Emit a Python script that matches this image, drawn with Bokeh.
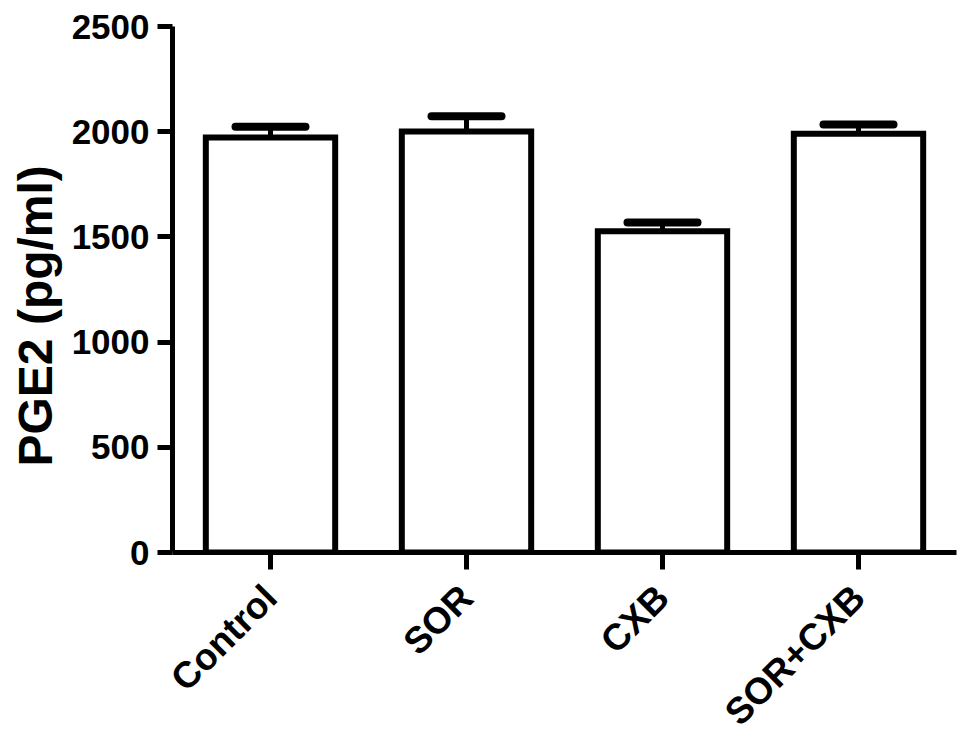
import math
from bokeh.plotting import figure
from bokeh.models import ColumnDataSource, Whisker, TeeHead, FactorRange, Range1d, FixedTicker, Title
from bokeh.embed import file_html
from bokeh.resources import INLINE

categories = ["Control", "SOR", "CXB", "SOR+CXB"]
values = [1972, 2001, 1527, 1990]
errors = [52, 73, 42, 44]
y_ticks = [0, 500, 1000, 1500, 2000, 2500]
y_title = "PGE2 (pg/ml)"

upper = [v + e for v, e in zip(values, errors)]
src = ColumnDataSource(dict(cat=categories, val=values, up=upper))

W, H = 963, 750
p = figure(width=W, height=H, x_range=FactorRange(factors=categories),
           y_range=Range1d(0, 2500), output_backend="svg", toolbar_location=None,
           min_border_left=172, min_border_right=7, min_border_top=26, min_border_bottom=H - 553)
p.outline_line_color = None
p.grid.visible = False
p.background_fill_color = "white"

p.vbar(x="cat", top="val", width=0.66, source=src, fill_color="white",
       line_color="black", line_width=6, line_join="miter")

w = Whisker(base="cat", lower="val", upper="up", source=src, dimension="height",
            line_color="black", line_width=5,
            upper_head=TeeHead(size=70, line_width=8, line_color="black", line_cap="round"),
            lower_head=None)
p.add_layout(w)

font = "Liberation Sans"
p.yaxis.ticker = FixedTicker(ticks=y_ticks)

title = Title(text=y_title, align="left", offset=86, standoff=13,
              text_font=font, text_font_style="bold", text_font_size="48px",
              text_color="black")
p.add_layout(title, "left")

for ax in (p.xaxis, p.yaxis):
    ax.axis_line_width = 5
    ax.axis_line_color = "black"
    ax.major_tick_line_width = 5
    ax.major_tick_line_color = "black"
    ax.major_tick_in = 0
    ax.minor_tick_line_color = None
    ax.major_label_text_font = font
    ax.major_label_text_font_style = "bold"
    ax.major_label_text_color = "black"

p.yaxis.major_tick_out = 15
p.yaxis.major_label_text_font_size = "35px"
p.yaxis.major_label_standoff = 8
p.xaxis.major_tick_out = 17
p.xaxis.major_label_text_font_size = "37px"
p.xaxis.major_label_orientation = math.pi / 4
p.xaxis.major_label_standoff = 22

open("out.html", "w").write(file_html(p, INLINE))
